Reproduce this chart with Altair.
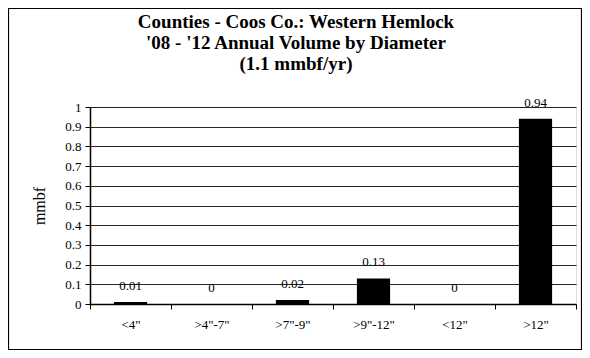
import altair as alt
import pandas as pd

categories = ['<4"', '>4"-7"', '>7"-9"', '>9"-12"', '<12"', '>12"']
values = [0.01, 0, 0.02, 0.13, 0, 0.94]
y_ticks = [0, 0.1, 0.2, 0.3, 0.4, 0.5, 0.6, 0.7, 0.8, 0.9, 1]
title_lines = ["Counties - Coos Co.: Western Hemlock", "'08 - '12 Annual Volume by Diameter", "(1.1 mmbf/yr)"]

df = pd.DataFrame({"cat": categories, "val": values})

FONT = "Liberation Serif"

x_axis = alt.Axis(
    labelAngle=0, tickBand="extent", tickSize=5, tickColor="black",
    domainColor="black", domainWidth=1.5, labelPadding=9, labelFontSize=13,
    labelFont=FONT, labelColor="black", grid=False,
)
y_axis = alt.Axis(
    values=y_ticks, format="~g", tickSize=5, tickColor="black", labelOverlap=False,
    domainColor="black", domainWidth=1.5, labelPadding=4, labelFontSize=13,
    labelFont=FONT, labelColor="black", grid=True, gridColor="black",
    gridWidth=1, gridOpacity=0.85, titleFont=FONT, titleFontSize=16,
    titleFontWeight="normal", titleColor="black", titleX=-51, titleY=98.5,
    titleAngle=270, titleBaseline="middle", titleAlign="center",
)

x_enc = alt.X("cat:N", sort=categories, title=None,
              scale=alt.Scale(paddingInner=0, paddingOuter=0), axis=x_axis)
y_enc = alt.Y("val:Q", title="mmbf", scale=alt.Scale(domain=[0, 1], nice=False), axis=y_axis)

bars = alt.Chart(df).mark_bar(color="black", width=alt.RelativeBandSize(0.41)).encode(x=x_enc, y=y_enc)
labels = alt.Chart(df).mark_text(
    baseline="alphabetic", dy=-12, fontSize=13, font=FONT, color="black"
).encode(x=x_enc, y=y_enc, text=alt.Text("val:Q", format="~g"))

border = alt.Chart(pd.DataFrame({"a": [0]})).mark_rect(
    fill=None, stroke="black", strokeWidth=1.2
).encode(x=alt.value(-81.5), x2=alt.value(491.5), y=alt.value(-98.5), y2=alt.value(242.5))

chart = alt.layer(bars, labels, border).properties(
    width=486,
    height=197,
    autosize=alt.AutoSizeParams(type="none"),
    padding={"left": 82, "top": 99, "right": 6, "bottom": 46},
    title=alt.TitleParams(
        text=title_lines, font=FONT, fontSize=19, fontWeight="bold", color="black",
        anchor="middle", dx=-37, lineHeight=21, offset=-66,
    ),
).configure_view(stroke="black", strokeWidth=1).configure(background="white")

chart.save("out.html", embed_options={"renderer": "svg", "actions": False})
